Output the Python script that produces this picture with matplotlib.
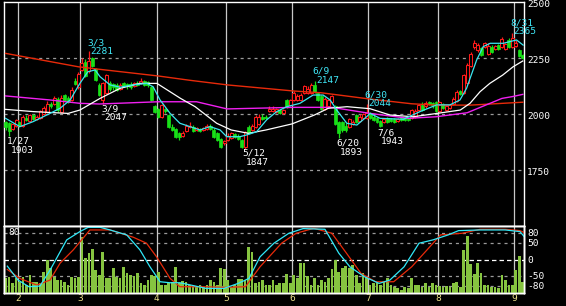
import matplotlib
matplotlib.use("Agg")
import matplotlib.pyplot as plt
from matplotlib.patches import Rectangle

plt.rcParams['lines.scale_dashes'] = False

# ---------------- data ----------------
# trading-day index 0 = 2022-01-26 ... 149 = 2022-09-05
opens = [1967,1960,1935,1950,1965,1950,1985,1970,1995,1980,1985,2000,2010,2045,2045,2070,2010,2085,2075,2065,
         2150,2120,2200,2235,2195,2250,2200,2130,2065,2095,2140,2135,2130,2115,2140,2135,2135,2125,2140,2140,
         2150,2145,2120,2035,2025,1990,2025,1995,1945,1935,1915,1905,1925,1945,1945,1930,1935,1930,1935,1950,
         1930,1915,1890,1870,1885,1895,1910,1905,1885,1855,1945,1930,1945,1955,1990,1990,2015,2015,2012,2020,
         2005,2065,2040,2065,2065,2065,2095,2095,2095,2130,2095,2080,2025,2035,2055,2035,1965,1965,1950,1945,
         1955,1995,1970,1985,1985,2005,1990,1985,1970,1965,1985,1980,1980,1970,1985,1985,1985,1985,1990,2020,
         2040,2035,2055,2050,2055,2015,2045,2020,2030,2045,2060,2105,2095,2140,2215,2300,2285,2295,2300,2270,
         2300,2290,2310,2300,2290,2330,2300,2305,2285,2265]
highs = [1970,1965,1960,1980,1970,1995,1995,2000,2000,1995,2020,2035,2060,2055,2080,2075,2085,2090,2080,2120,
         2160,2190,2250,2245,2281,2255,2205,2140,2145,2180,2150,2140,2140,2140,2145,2140,2145,2145,2150,2160,
         2155,2150,2125,2040,2030,2045,2030,2000,1955,1940,1920,1925,1955,1965,1950,1945,1940,1945,1955,1955,
         1940,1920,1895,1885,1915,1920,1915,1910,1890,1925,1950,1955,1995,2000,2000,1995,2035,2035,2030,2025,
         2025,2070,2070,2105,2090,2095,2130,2125,2140,2147,2100,2085,2075,2070,2085,2040,1970,1970,1960,1985,
         1975,2000,2000,2005,2044,2010,1995,1990,1975,1985,1990,1985,1985,1985,1990,1990,1990,2025,2025,2045,
         2055,2060,2060,2055,2060,2060,2050,2040,2045,2075,2110,2110,2180,2230,2280,2330,2320,2300,2325,2320,
         2310,2310,2315,2345,2320,2340,2365,2330,2290,2270]
lows = [1930,1903,1930,1945,1945,1945,1970,1965,1975,1975,1980,1995,2005,2030,2040,2010,2005,2060,2050,2060,
        2130,2115,2195,2165,2185,2210,2150,2080,2047,2090,2105,2110,2105,2110,2120,2115,2115,2120,2125,2135,
        2125,2120,2060,2005,1985,1985,2005,1940,1925,1895,1885,1900,1920,1940,1920,1925,1920,1925,1930,1930,
        1895,1880,1850,1865,1880,1890,1895,1885,1850,1847,1910,1925,1940,1950,1975,1980,2010,2010,2005,2000,
        2000,2030,2035,2060,2060,2060,2090,2090,2090,2095,2060,2020,2020,2030,2050,1950,1893,1920,1920,1940,
        1950,1960,1965,1980,1980,1980,1970,1960,1943,1960,1960,1965,1960,1965,1970,1970,1970,1980,1985,2015,
        2015,2030,2040,2030,2010,2010,2025,2015,2025,2040,2055,2085,2090,2135,2210,2290,2280,2260,2295,2265,
        2275,2285,2285,2295,2285,2295,2295,2300,2255,2245]
closes = [1945,1925,1955,1975,1950,1990,1975,1995,1980,1990,2015,2030,2045,2035,2075,2020,2075,2065,2055,2110,
          2135,2180,2230,2170,2240,2215,2155,2085,2140,2175,2115,2120,2110,2130,2125,2125,2120,2140,2130,2150,
          2130,2130,2065,2010,1990,2040,2015,1945,1930,1900,1900,1918,1950,1950,1925,1940,1925,1940,1950,1935,
          1900,1885,1855,1880,1905,1915,1900,1890,1855,1920,1915,1950,1990,1990,1980,1985,2025,2025,2022,2005,
          2020,2035,2065,2095,2080,2085,2125,2115,2130,2100,2065,2025,2070,2065,2080,1955,1915,1930,1930,1980,
          1965,1965,1990,2000,2005,1985,1975,1965,1950,1980,1965,1970,1965,1980,1975,1975,1975,2020,2015,2040,
          2020,2050,2045,2040,2015,2055,2030,2035,2040,2070,2100,2090,2175,2220,2270,2320,2310,2265,2320,2305,
          2280,2305,2290,2335,2315,2300,2340,2320,2260,2250]
volume = [217,241,141,217,166,241,116,266,166,166,141,317,492,367,241,191,191,166,116,241,
          217,241,843,518,593,653,342,266,618,217,217,367,241,217,392,292,266,255,292,141,
          116,191,266,255,317,116,116,141,166,392,141,181,166,116,116,91,116,91,116,191,
          166,116,367,357,191,91,116,201,201,191,693,618,141,166,191,116,116,191,116,141,
          151,281,141,266,217,442,442,255,116,217,116,191,166,217,352,492,317,367,402,367,
          417,266,141,292,241,116,141,141,116,166,217,116,91,65,40,91,65,217,116,116,
          91,151,91,141,116,100,91,100,91,141,166,91,643,853,432,281,442,292,116,116,
          91,91,65,266,191,116,116,342,557,166]

# moving averages: (day index, value) read at sample points
ma_short_x = [0,4.1,7.9,12.8,15.7,18.6,21.4,23.7,25.8,27.2,30.1,33,36.7,40.7,42.5,44.5,47.4,50.2,53.1,56,
              58.9,61.8,63.7,67.5,69.5,72.3,75.2,78.1,81,84.8,88.6,91.5,93.5,95.4,98.3,101.2,104,105,107.9,114.6,
              119.4,124.2,128,130.9,132.8,135.7,137.6,139.6,143.4,147.2,149.1]
ma_short_y = [1982,1945,1967,2004,2027,2064,2138,2190,2198,2168,2131,2121,2131,2138,2123,2064,2004,1960,1945,1930,
              1945,1930,1900,1900,1908,1922,1975,2012,2034,2049,2086,2086,2064,2019,1960,1952,1989,2004,1982,1978,
              2012,2042,2042,2064,2116,2242,2302,2317,2317,2332,2309]
ma_mid_x = [0,8,18,21.4,27.2,33,38.7,43.6,50.4,54.6,60.8,65,70,75,82.5,89,93,98.4,105,110.7,
            117.4,124.3,131,133.8,136.7,139.5,143.2,146.2,149]
ma_mid_y = [2022,2012,2004,2019,2071,2116,2138,2138,2071,2034,1960,1930,1915,1930,1957,1997,2027,2034,2025,1997,
            1989,2004,2019,2049,2101,2138,2175,2212,2238]
ma_75_x = [0,12.8,21.4,27,44,55,63.8,83,94,105,116,124,133,143,146,149]
ma_75_y = [2082,2064,2049,2046,2056,2056,2024,2031,2031,2004,1982,1989,2007,2071,2079,2089]
ma_200_x = [0,21,27,44,53,64,83,91,105,117,124,134,149]
ma_200_y = [2272,2212,2201,2171,2152,2131,2104,2096,2068,2047,2041,2041,2054]

# oscillators (RCI) in the lower panel
rci_fast_x = [0.5,3.6,6.7,9.9,12.8,17.6,21.4,23.8,27.2,30.1,34.9,38.7,41.6,44.5,47.3,50.2,52.5,57.7,62.9,67,
              70.1,73.3,77.3,81.6,85.7,92,96,99.2,103.4,107.6,110.7,114.8,119.1,123.1,127.5,130.5,136.7,143.9,148.2,149.4]
rci_fast_y = [-20,-62,-82,-80,-32,59,84,97,97,89,74,29,-22,-67,-70,-70,-75,-87,-87,-72,
              -57,8,49,79,93,91,19,-22,-52,-72,-62,-22,49,59,74,87,89,89,84,69]
rci_slow_x = [0.5,4.1,9,12.8,15.7,19.5,21.9,24.3,30.1,36.8,40.6,43.5,47.4,50.2,56.6,62.9,69.1,73.3,79.5,83.7,
              88.8,94,98.2,102.4,106.6,111.8,117,122.2,125.3,131.5,136.7,143.9,148.2,149.4]
rci_slow_y = [-30,-57,-77,-62,-11,29,59,89,89,67,49,8,-57,-82,-82,-84,-82,-22,49,79,
              94,79,19,-42,-67,-67,-22,38,74,79,91,91,87,81]

# high / low annotations
ann_text = ["1/27\n1903", "3/3\n2281", "3/9\n2047", "5/12\n1847", "6/9\n2147",
            "6/20\n1893", "6/30\n2044", "7/6\n1943", "8/31\n2365"]
ann_pos = [(7, 137), (87, 38), (101, 104), (242.5, 149), (312.5, 67),
           (336.5, 139), (364.5, 90), (377.3, 128), (510, 18.5)]   # pixel top-left
ann_is_high = [False, True, False, False, True, False, True, False, True]

month_labels = ["2", "3", "4", "5", "6", "7", "8", "9"]
month_first_idx = [4, 22, 44, 64, 83, 105, 125, 147]
price_ticks = [2500, 2250, 2000, 1750]
osc_ticks = [80, 50, 0, -50, -80]

# ---------------- layout ----------------
W, H = 566, 306
fig = plt.figure(figsize=(W / 100, H / 100), dpi=100, facecolor="black")

def rect(x0, y0, x1, y1):
    return [x0 / W, 1 - y1 / H, (x1 - x0) / W, (y1 - y0) / H]

X0, X1 = 4.3, 524.2
PX0, PXD = 5.6, 3.471
xlim = ((X0 - PX0) / PXD, (X1 - PX0) / PXD)

ax = fig.add_axes(rect(X0, 2.3, X1, 226.3))
axl = fig.add_axes(rect(X0, 226.3, X1, 292.7))
axv = axl.twinx()
axr = axl.twinx()

for a in (ax, axl, axv, axr):
    a.set_xlim(*xlim)
    a.set_facecolor("black")
    a.set_xticks([])
    a.set_yticks([])
    for s in a.spines.values():
        s.set_color("white")
        s.set_linewidth(1.0)
for a in (axv, axr):
    a.patch.set_alpha(0)

ax.set_ylim(1500, 2500)
axl.set_ylim(-100, 100)
axr.set_ylim(-100, 100)
axv.set_ylim(0, 1000)

mono = "DejaVu Sans Mono"
FS = 6.8
GRID = "#9a9a9a"

# grid lines
for p in (1750, 2000, 2250):
    ax.axhline(p, color=GRID, lw=0.9, ls=(0, (2.2, 2.8)), zorder=1)
for v in (80, 50, -50, -80):
    axl.axhline(v, color=GRID, lw=0.9, ls=(0, (2.2, 2.8)), zorder=1)
axl.axhline(0, color="white", lw=0.9, ls=(0, (3.2, 2.2)), zorder=1)
for mi in month_first_idx:
    for a in (ax, axl):
        a.axvline(mi - 0.45, color="#c8c8c8", lw=0.9, zorder=1)

# candles
UP, DOWN = "#ff1a1a", "#18e018"
BW = 0.86
for i, (o, h, l, c) in enumerate(zip(opens, highs, lows, closes)):
    col = UP if c >= o else DOWN
    ax.vlines(i, l, h, color=col, lw=0.9, zorder=3)
    lo, hi = min(o, c), max(o, c)
    if hi - lo < 4:
        hi = lo + 4
    if c >= o:
        ax.add_patch(Rectangle((i - BW / 2, lo), BW, hi - lo, facecolor="black",
                               edgecolor=col, lw=0.75, zorder=4))
    else:
        ax.add_patch(Rectangle((i - BW / 2, lo), BW, hi - lo, facecolor=col,
                               edgecolor=col, lw=0.5, zorder=4))

# moving averages
ax.plot(ma_200_x, ma_200_y, color="#e82a0a", lw=1.0, zorder=5)
ax.plot(ma_75_x, ma_75_y, color="#f020f0", lw=1.0, zorder=5)
ax.plot(ma_mid_x, ma_mid_y, color="white", lw=0.9, zorder=5)
ax.plot(ma_short_x, ma_short_y, color="#3ae6f0", lw=0.9, zorder=6)

# annotations
for txt, (px, py), hi in zip(ann_text, ann_pos, ann_is_high):
    col = "#40e8f8" if hi else "white"
    l1, l2 = txt.split("\n")
    xf, yf = px / W, 1 - py / H
    fig.text(xf, yf, l1, color=col, fontsize=FS, family=mono, va="top", ha="left")
    fig.text(xf + 3.5 / W, yf - 9 / H, l2, color=col, fontsize=FS, family=mono, va="top", ha="left")

# price axis labels
for p in price_ticks:
    ax.annotate(str(p), xy=(1, p), xycoords=("axes fraction", "data"), xytext=(2.2, -1.3),
                textcoords="offset points", color="white", fontsize=FS, family=mono,
                va="center", ha="left", annotation_clip=False)

# volume bars
axv.bar(range(len(volume)), volume, width=0.78, color="#86c440", zorder=2)

# oscillator lines
axr.plot(rci_slow_x, rci_slow_y, color="#e82a0a", lw=0.9)
axr.plot(rci_fast_x, rci_fast_y, color="#30e8f8", lw=0.9)

for v in osc_ticks:
    axr.annotate(str(v), xy=(1, v), xycoords=("axes fraction", "data"), xytext=(2.2, -0.5),
                 textcoords="offset points", color="white", fontsize=FS, family=mono,
                 va="center", ha="left", annotation_clip=False)
axr.annotate("80", xy=(0, 80), xycoords=("axes fraction", "data"), xytext=(3.2, 0.5),
             textcoords="offset points", color="white", fontsize=FS, family=mono,
             va="center", ha="left", annotation_clip=False)

# month labels
for lab, mi in zip(month_labels, month_first_idx):
    axl.annotate(lab, xy=(mi - 0.45, 0), xycoords=("data", "axes fraction"), xytext=(0, -4.3),
                 textcoords="offset points", color="#ece08c", fontsize=FS, family=mono,
                 va="center", ha="center", annotation_clip=False)

fig.savefig("out.png", dpi=100, facecolor="black")
